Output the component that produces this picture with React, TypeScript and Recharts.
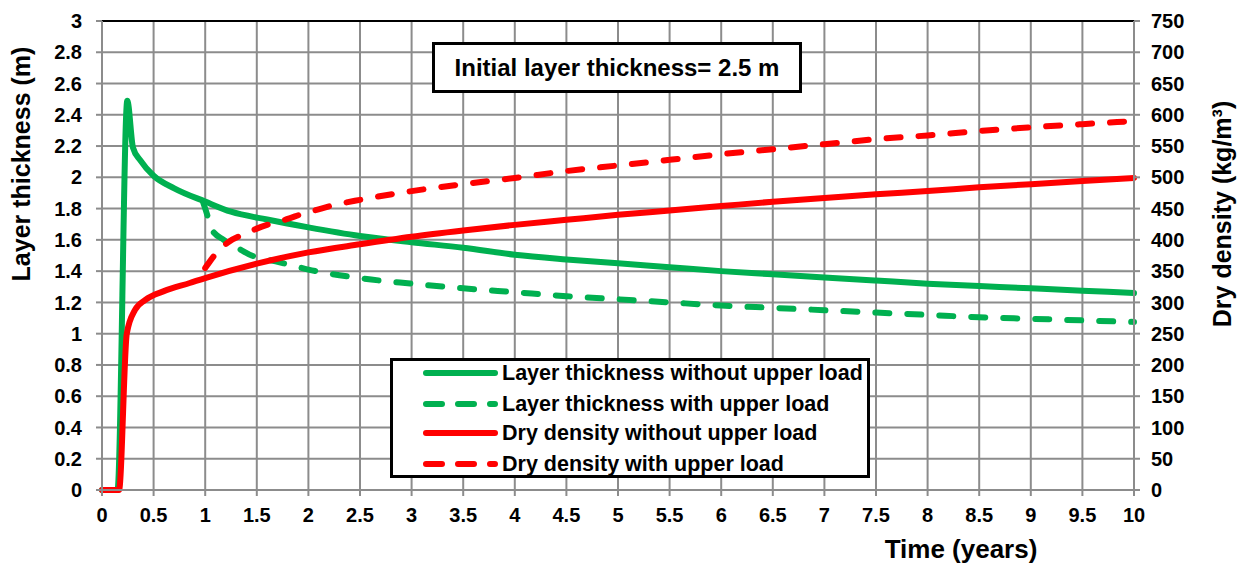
import React from 'react'
import {
  LineChart, Line, XAxis, YAxis, CartesianGrid, Label, ReferenceLine,
} from 'recharts'

const GREEN = '#00B050'
const RED = '#FF0000'
const GRID = '#8c8c8c'
const FONT = '"Liberation Sans", Arial, sans-serif'

// time ticks (years) and axis ticks
const timeTicks = [0, 0.5, 1, 1.5, 2, 2.5, 3, 3.5, 4, 4.5, 5, 5.5, 6, 6.5, 7, 7.5, 8, 8.5, 9, 9.5, 10]
const thickTicks = [0, 0.2, 0.4, 0.6, 0.8, 1, 1.2, 1.4, 1.6, 1.8, 2, 2.2, 2.4, 2.6, 2.8, 3]
const densityTicks = [0, 50, 100, 150, 200, 250, 300, 350, 400, 450, 500, 550, 600, 650, 700, 750]

// layer thickness without upper load (m)
const thickNoLoadT = [0, 0.15, 0.245, 0.3, 0.37, 0.5, 0.7, 1, 1.25, 1.6, 2, 2.5, 3, 3.5, 4, 4.5, 5, 5.5, 6, 6.5, 7, 7.5, 8, 8.5, 9, 9.5, 10]
const thickNoLoad = [0, 0, 2.49, 2.19, 2.11, 2.01, 1.93, 1.845, 1.78, 1.73, 1.68, 1.625, 1.585, 1.55, 1.505, 1.475, 1.45, 1.425, 1.4, 1.38, 1.36, 1.34, 1.32, 1.305, 1.29, 1.275, 1.26]

// layer thickness with upper load (m)
const thickLoadT = [0.98, 1.015, 1.06, 1.18, 1.31, 1.45, 1.6, 1.76, 2, 2.5, 3, 3.5, 4, 4.5, 5, 5.5, 6, 6.5, 7, 7.5, 8, 8.5, 9, 9.5, 10]
const thickLoad = [1.84, 1.77, 1.67, 1.6, 1.55, 1.5, 1.475, 1.45, 1.41, 1.355, 1.32, 1.29, 1.265, 1.24, 1.22, 1.2, 1.18, 1.165, 1.15, 1.135, 1.12, 1.105, 1.095, 1.085, 1.075]

// dry density without upper load (kg/m3)
const densNoLoadT = [0, 0.165, 0.24, 0.32, 0.42, 0.6, 0.85, 1, 1.5, 2, 2.5, 3, 3.5, 4, 4.5, 5, 5.5, 6, 6.5, 7, 7.5, 8, 8.5, 9, 9.5, 10]
const densNoLoad = [0, 0, 250, 288, 304, 318, 331, 339, 362, 380, 393, 405, 415, 424, 432, 440, 447, 454, 461, 467, 473, 478, 484, 489, 494, 499]

// dry density with upper load (kg/m3)
const densLoadT = [1, 1.03, 1.13, 1.23, 1.39, 1.5, 1.66, 1.79, 1.95, 2.08, 2.26, 2.5, 3, 3.5, 4, 4.5, 5, 5.5, 6, 6.5, 7, 7.5, 8, 8.5, 9, 9.5, 10]
const densLoad = [355, 362, 383, 397, 410, 418, 427, 433, 442, 448, 456, 464, 478, 489, 499, 510, 519, 528, 537, 545, 553, 561, 567, 574, 580, 585, 590]

const zip = (ts: number[], vs: number[]) => ts.map((t, i) => ({ t, v: vs[i] }))

const SERIES = [
  { name: 'Layer thickness without upper load', data: zip(thickNoLoadT, thickNoLoad), axis: 'left', color: GREEN, dashed: false },
  { name: 'Layer thickness with upper load', data: zip(thickLoadT, thickLoad), axis: 'left', color: GREEN, dashed: true },
  { name: 'Dry density without upper load', data: zip(densNoLoadT, densNoLoad), axis: 'right', color: RED, dashed: false },
  { name: 'Dry density with upper load', data: zip(densLoadT, densLoad), axis: 'right', color: RED, dashed: true },
]

const tickStyle = { fill: '#000', fontSize: 20, fontWeight: 700, fontFamily: FONT }
const titleStyle = { fontSize: 25, fontWeight: 700, fontFamily: FONT, fill: '#000' }

// legend rows, offsets inside the box
const ROW_TOPS = [-3, 28, 57, 88]

function LegendBox() {
  return (
    <div style={{
      position: 'absolute', left: 390, top: 358, width: 480, height: 120,
      border: '3px solid #000', background: '#fff', boxSizing: 'border-box',
      fontFamily: FONT, fontWeight: 700, fontSize: 21.5, color: '#000',
    }}>
      {SERIES.map((s, i) => (
        <div key={s.name} style={{
          position: 'absolute', left: 0, top: ROW_TOPS[i], height: 30,
          display: 'flex', alignItems: 'center', whiteSpace: 'nowrap',
        }}>
          <svg width={109} height={12} style={{ flex: 'none' }}>
            <line x1={33} y1={6} x2={102} y2={6} stroke={s.color} strokeWidth={6}
              strokeLinecap="round" strokeDasharray={s.dashed ? '16 16' : undefined} />
          </svg>
          <span>{s.name}</span>
        </div>
      ))}
    </div>
  )
}

export default function App() {
  return (
    <div style={{ position: 'absolute', left: 0, top: 0, width: 1247, height: 566, background: '#fff' }}>
      <LineChart width={1247} height={566} margin={{ top: 21, right: 0, bottom: 0, left: 0 }}>
        <CartesianGrid yAxisId="left" stroke={GRID} strokeWidth={2} />
        <XAxis
          type="number" dataKey="t" domain={[0, 10]} ticks={timeTicks} interval={0} allowDuplicatedCategory={false}
          height={76} tickSize={6} tickMargin={12} stroke={GRID} strokeWidth={2} tick={tickStyle}
        >
          <Label content={({ viewBox }: any) => (
            <text x={961} y={viewBox.y + 68} textAnchor="middle" style={{ ...titleStyle, fontSize: 26 }}>Time (years)</text>
          )} />
        </XAxis>
        <YAxis
          yAxisId="left" domain={[0, 3]} ticks={thickTicks} interval={0} width={102}
          tickSize={6} tickMargin={14} stroke={GRID} strokeWidth={2} tick={tickStyle}
        >
          <Label content={() => (
            <text x={21} y={164} textAnchor="middle" dominantBaseline="central"
              transform="rotate(-90 21 164)" style={titleStyle}>Layer thickness (m)</text>
          )} />
        </YAxis>
        <YAxis
          yAxisId="right" orientation="right" domain={[0, 750]} ticks={densityTicks} interval={0} width={113}
          tickSize={6} tickMargin={11} stroke={GRID} strokeWidth={2} tick={{ ...tickStyle, textAnchor: 'start' }}
        >
          <Label content={() => (
            <text x={1222} y={214} textAnchor="middle" dominantBaseline="central"
              transform="rotate(-90 1222 214)" style={titleStyle}>Dry density (kg/m³)</text>
          )} />
        </YAxis>
        <ReferenceLine yAxisId="left" y={3} stroke="#000" strokeWidth={2} />
        {SERIES.map(s => (
          <Line
            key={s.name} name={s.name} data={s.data} dataKey="v" yAxisId={s.axis}
            type="monotone" stroke={s.color} strokeWidth={6} strokeLinecap="round" strokeLinejoin="round"
            strokeDasharray={s.dashed ? '14 18' : undefined}
            dot={false} activeDot={false} isAnimationActive={false}
          />
        ))}
      </LineChart>
      <div style={{
        position: 'absolute', left: 432, top: 42, width: 370, height: 51, boxSizing: 'border-box',
        border: '3px solid #000', background: '#fff', display: 'flex', alignItems: 'center', justifyContent: 'center',
        fontFamily: FONT, fontWeight: 700, fontSize: 24, color: '#000', whiteSpace: 'nowrap',
      }}>
        Initial layer thickness= 2.5 m
      </div>
      <LegendBox />
    </div>
  )
}
